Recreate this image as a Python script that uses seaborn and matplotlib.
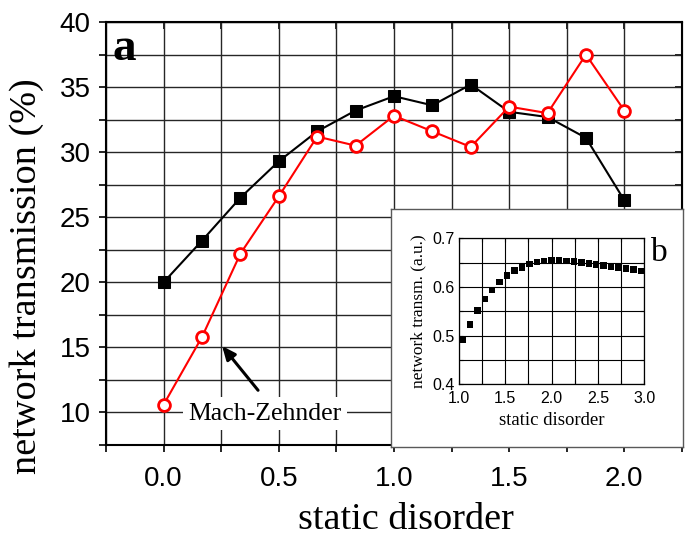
import numpy as np
import pandas as pd
import matplotlib
matplotlib.use('Agg')
import matplotlib.pyplot as plt
import seaborn as sns

# main panel (a)
disorder = [0.0, 1/6, 2/6, 0.5, 4/6, 5/6, 1.0, 7/6, 8/6, 1.5, 10/6, 11/6, 2.0]
black_vals = [20.0, 23.2, 26.5, 29.3, 31.6, 33.2, 34.3, 33.6, 35.2, 33.1, 32.7, 31.1, 26.3]
red_vals = [10.6, 15.8, 22.2, 26.6, 31.2, 30.5, 32.8, 31.6, 30.4, 33.5, 33.0, 37.5, 33.2]

# inset panel (b)
inset_x = [1.04 + 0.08 * i for i in range(25)]
inset_y = [0.491, 0.523, 0.551, 0.575, 0.594, 0.610, 0.623, 0.634, 0.640, 0.647,
           0.651, 0.653, 0.654, 0.654, 0.653, 0.652, 0.650, 0.648, 0.646, 0.644,
           0.642, 0.640, 0.638, 0.636, 0.633]

sns.set_style("ticks")
plt.rcParams['font.family'] = ['Liberation Sans', 'DejaVu Sans']
plt.rcParams['text.color'] = 'black'
plt.rcParams['xtick.color'] = 'black'
plt.rcParams['ytick.color'] = 'black'
plt.rcParams['axes.labelcolor'] = 'black'
serif = 'Liberation Serif'

df = pd.DataFrame({'x': disorder, 'black': black_vals, 'red': red_vals})
df_in = pd.DataFrame({'x': inset_x, 'y': inset_y})

fig = plt.figure(figsize=(6.93, 5.38), dpi=100)
ax = fig.add_axes([0.153, 0.173, 0.831, 0.786])

sns.lineplot(data=df, x='x', y='black', ax=ax, color='black', lw=1.5,
             marker='s', markersize=8.5, markeredgecolor='black', zorder=3)
sns.lineplot(data=df, x='x', y='red', ax=ax, color='red', lw=1.5,
             marker='o', markersize=8.5, markerfacecolor='white',
             markeredgecolor='red', markeredgewidth=2, zorder=4)

ax.set_xlim(-0.25, 2.25)
ax.set_ylim(7.5, 40)
xt = np.arange(-0.25, 2.26, 0.25)
ax.set_xticks(xt)
ax.set_xticklabels(['' if abs(v * 2 - round(v * 2)) > 1e-6 or v < 0 else f'{v:.1f}'
                    for v in xt])
yt = np.arange(7.5, 40.1, 2.5)
ax.set_yticks(yt)
ax.set_yticklabels(['' if v % 5 else f'{int(v)}' for v in yt])
ax.tick_params(direction='out', length=5, width=1.2, labelsize=20, pad=6)
ax.tick_params(axis='x', pad=10)
ax.grid(True, color='0.15', lw=1.0)
for s in ax.spines.values():
    s.set_linewidth(1.5)
    s.set_color('black')
ax.set_xlabel('static disorder', family=serif, fontsize=27.5, labelpad=6)
ax.xaxis.set_label_coords(0.52, -0.135)
ax.set_ylabel('network transmission (%)', family=serif, fontsize=27.5)
ax.yaxis.set_label_coords(-0.108, 0.40)

# inward ticks on top and right
axt = ax.secondary_xaxis('top')
axt.set_xticks(xt)
axt.tick_params(direction='in', length=5, width=1.2, labeltop=False)
axr = ax.secondary_yaxis('right')
axr.set_yticks(yt)
axr.tick_params(direction='in', length=5, width=1.2, labelright=False)

ax.text(0.012, 0.985, 'a', transform=ax.transAxes, family=serif, fontsize=34,
        fontweight='bold', va='top', ha='left')

ax.annotate('', xy=(0.254, 15.1), xytext=(0.41, 11.7),
            arrowprops=dict(arrowstyle='-|>,head_length=0.8,head_width=0.35',
                            color='black', lw=2.2, shrinkA=0, shrinkB=0))
ax.text(0.44, 9.9, 'Mach-Zehnder', family=serif, fontsize=18.5, ha='center',
        va='center', zorder=5,
        bbox=dict(facecolor='white', edgecolor='none', pad=4))

# inset box
box = fig.add_axes([0.564, 0.169, 0.421, 0.442], zorder=5)
box.set_xticks([])
box.set_yticks([])
box.set_facecolor('white')
for s in box.spines.values():
    s.set_color('0.35')
    s.set_linewidth(1.0)

ins = fig.add_axes([0.662, 0.286, 0.268, 0.271], zorder=6)
sns.scatterplot(data=df_in, x='x', y='y', ax=ins, marker='s', s=22,
                color='black', edgecolor='none', zorder=3)
ins.set_xlim(1.0, 3.0)
ins.set_ylim(0.4, 0.7)
ixt = np.arange(1.0, 3.01, 0.25)
ins.set_xticks(ixt)
ins.set_xticklabels([f'{v:.1f}' if abs(v * 2 - round(v * 2)) < 1e-6 else '' for v in ixt])
iyt = np.arange(0.4, 0.701, 0.05)
ins.set_yticks(iyt)
ins.set_yticklabels([f'{v:.1f}' if abs(v * 10 - round(v * 10)) < 1e-6 else '' for v in iyt])
ins.tick_params(direction='in', length=3, width=0.8, labelsize=11.5, pad=3,
                top=True, right=True)
ins.tick_params(axis='x', pad=5)
ins.grid(True, color='black', lw=0.8)
for s in ins.spines.values():
    s.set_linewidth(0.9)
    s.set_color('black')
ins.set_xlabel('static disorder', family=serif, fontsize=13.5, labelpad=4)
ins.set_ylabel('network transm. (a.u.)', family=serif, fontsize=12.5, labelpad=4)
fig.text(0.940, 0.530, 'b', family=serif, fontsize=24, ha='left', va='center', zorder=7)

fig.savefig('out.png', dpi=100)
